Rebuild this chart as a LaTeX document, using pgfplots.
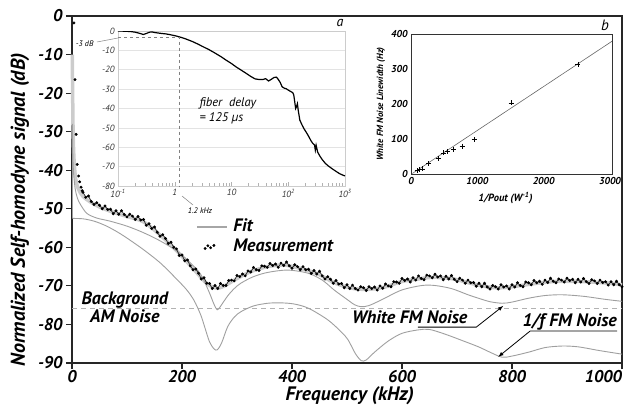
\documentclass[border=0pt]{standalone}
\usepackage{fontspec}
\setmainfont{PT Sans}
\usepackage{pgfplots}
\pgfplotsset{compat=1.18}
\newcommand{\bfi}{\bfseries\itshape}
\begin{document}
\begin{tikzpicture}
\path[use as bounding box] (-72pt,-45pt) rectangle (554pt,363pt);
% ---------------- main axis ----------------
\begin{axis}[
  scale only axis, width=550pt, height=347pt,
  xmin=0, xmax=1000, ymin=-90, ymax=0,
  clip=false,
  xtick={0,200,400,600,800,1000},
  xticklabels={0,200,400,600,800,\hbox to 0pt{\hss 1000}},
  ytick={-90,-80,...,0},
  tick align=outside, tick pos=left, major tick length=6pt,
  axis line style={line width=1.1pt, black!85},
  tick style={line width=1.1pt, black!85},
  /pgf/number format/assume math mode=true,
  tick label style={font=\fontsize{17}{17}\selectfont\bfi},
  xticklabel style={yshift=2.5pt},
  xlabel={Frequency (kHz)},
  xlabel style={font=\fontsize{19.5}{19.5}\selectfont\bfi, at={(axis description cs:0.505,-0.095)}, anchor=center},
  ylabel={Normalized Self-homodyne signal (dB)},
  ylabel style={font=\fontsize{20}{20}\selectfont\bfi, at={(axis description cs:-0.0945,0.441)}, anchor=center},
]
% background AM noise
\addplot[gray!60, dashed, line width=0.9pt, dash pattern=on 5pt off 4pt] coordinates {(0,-75.8) (1000,-75.8)};
% Fit (thick light gray)
\addplot[gray!40, line width=3.5pt, smooth] coordinates {
(0.5,-10) (2,-30) (4,-38) (7,-42.5) (12,-45) (20,-46.8) (33,-48.2) (51,-49.6) (75,-50.9) (100,-52) (130,-53.4) (161,-56.9) (191,-61) (222,-65.8) (246,-69.5) (264,-70.6) (280,-69.8) (295,-68.5) (325,-66.3) (356,-65) (386,-64.6) (416,-65.5) (447,-66.9) (477,-69.2) (508,-70.6) (538,-70.9) (569,-70.3) (599,-68.9) (630,-68.2) (654,-67.8) (690,-68.1) (727,-69.4) (763,-70.4) (790,-70.4) (836,-69.5) (873,-68.9) (910,-68.8) (946,-69) (983,-69.4) (1000,-69.7)};
% White FM noise
\addplot[gray!75, line width=0.9pt, smooth] coordinates {
(0.8,-28) (1.5,-36) (3,-41) (6,-45) (10,-47.3) (15,-48.8) (27,-51.2) (45,-52.4) (69,-53.2) (100,-54.5) (130,-56.2) (160,-58.3) (191,-61) (215,-64) (234,-67) (249,-71.5) (258,-74.7) (264,-76.2) (270,-75.3) (283,-72.6) (295,-70.7) (307,-69.3) (330,-67.6) (356,-66.5) (392,-65.9) (429,-66.7) (455,-68.5) (477,-71.1) (500,-73.5) (514,-74.9) (526,-75.4) (540,-75.1) (563,-73.6) (599,-71.1) (636,-69.9) (660,-69.9) (690,-70.7) (720,-72.3) (739,-73.2) (760,-74.1) (782,-74.5) (800,-74.2) (830,-73.2) (860,-72.5) (891,-72.3) (930,-72.7) (970,-73.5) (1000,-74)};
% 1/f FM noise
\addplot[gray!75, line width=0.9pt, smooth] coordinates {
(0.6,-52.5) (20,-52.6) (40,-53.2) (60,-54.3) (80,-55.8) (100,-57.6) (130,-60.6) (161,-64.1) (190,-68.2) (209,-71.1) (222,-73.8) (234,-77.5) (242,-81) (250,-84.5) (258,-86.3) (264,-86.6) (272,-84.8) (283,-80.6) (295,-78.1) (307,-76.7) (330,-75.2) (356,-74.5) (380,-74.4) (404,-74.7) (430,-75.8) (465,-78.8) (490,-82) (502,-84) (515,-87.5) (526,-89.4) (535,-89.2) (550,-87.2) (575,-84.3) (600,-82.3) (630,-81.4) (650,-81.3) (678,-82.5) (710,-84.2) (739,-85.8) (760,-87.2) (782,-88.5) (800,-88.2) (830,-87.2) (860,-86) (891,-85.6) (920,-85.8) (960,-86.8) (1000,-87.7)};
\addplot[gray!75, line width=0.9pt] coordinates {(0.6,-30) (0.6,-52.5)};
% Measurement
\addplot[only marks, mark=*, mark size=1.25pt, black] coordinates {
(3.5,-1.8) (5.5,-16.5) (7.5,-30.7) (9.5,-38.5) (12,-41.5) (14,-43) (16.5,-44.4) (18.5,-45.3)};
\addplot[black!85, line width=0.7pt, mark=*, mark size=1.1pt, mark options={black}] coordinates {
(20,-45.7) (25,-47.0) (30,-46.7) (35,-48.1) (40,-48.9) (45,-48.4) (50,-49.1) (55,-50.0) (60,-49.3) (65,-50.2) (70,-50.1) (75,-51.3)
(80,-50.5) (85,-51.4) (90,-50.5) (95,-51.5) (100,-52.1) (105,-51.4) (110,-51.9) (115,-52.8) (120,-52.0) (125,-52.9) (130,-52.8)
(135,-54.3) (140,-53.9) (145,-55.1) (150,-54.7) (155,-56.1) (160,-57.1) (165,-56.7) (170,-57.7) (175,-59.0) (180,-58.7) (185,-60.0) (190,-60.4)
(195,-62.1) (200,-62.0) (205,-63.5) (210,-63.3) (215,-64.8) (220,-65.8) (225,-65.6) (230,-66.7) (235,-68.2) (240,-67.9) (245,-69.3)
(250,-69.4) (255,-70.7) (260,-69.9) (265,-70.7) (270,-69.4) (275,-69.9) (280,-69.9) (285,-68.6) (290,-68.5) (295,-68.7)
(300,-67.3) (305,-67.6) (310,-66.9) (315,-67.4) (320,-66.1) (325,-66.4) (330,-65.2) (335,-65.8) (340,-66.0) (345,-64.8) (350,-64.9) (355,-65.2)
(360,-64.2) (365,-64.7) (370,-64.3) (375,-65.2) (380,-64.1) (385,-64.7) (390,-63.8) (395,-64.8) (400,-65.4) (405,-64.5) (410,-65.0) (415,-65.8)
(420,-65.0) (425,-65.8) (430,-65.7) (435,-66.8) (440,-66.0) (445,-66.9) (450,-66.2) (455,-67.4) (460,-68.2) (465,-67.6) (470,-68.3) (475,-69.3)
(480,-68.6) (485,-69.5) (490,-69.4) (495,-70.5) (500,-69.7) (505,-70.7) (510,-69.8) (515,-70.7) (520,-71.1) (525,-70.2) (530,-70.5) (535,-71.2)
(540,-70.2) (545,-70.7) (550,-70.3) (555,-71.1) (560,-70.0) (565,-70.6) (570,-69.5) (575,-70.0) (580,-70.2) (585,-68.9) (590,-69.0) (595,-69.3)
(600,-68.1) (605,-68.6) (610,-68.2) (615,-69.0) (620,-67.9) (625,-68.5) (630,-67.4) (635,-68.1) (640,-68.4) (645,-67.2) (650,-67.4)
(655,-67.9) (660,-67.0) (665,-67.7) (670,-67.4) (675,-68.4) (680,-67.5) (685,-68.2) (690,-67.3) (695,-68.3) (700,-68.9) (705,-68.0) (710,-68.5)
(715,-69.3) (720,-68.5) (725,-69.2) (730,-69.1) (735,-70.1) (740,-69.3) (745,-70.2) (750,-69.3) (755,-70.3) (760,-70.8) (765,-69.9) (770,-70.2)
(775,-70.8) (780,-69.7) (785,-70.3) (790,-70.0) (795,-70.8) (800,-69.7) (805,-70.3) (810,-69.2) (815,-69.9) (820,-70.2) (825,-69.0) (830,-69.2)
(835,-69.7) (840,-68.6) (845,-69.2) (850,-68.8) (855,-69.6) (860,-68.5) (865,-69.1) (870,-68.0) (875,-68.8) (880,-69.2) (885,-68.2) (890,-68.5)
(895,-69.0) (900,-68.0) (905,-68.6) (910,-68.3) (915,-69.2) (920,-68.3) (925,-69.0) (930,-68.1) (935,-68.9) (940,-69.4) (945,-68.4) (950,-68.7)
(955,-69.4) (960,-68.5) (965,-69.1) (970,-68.9) (975,-69.8) (980,-68.9) (985,-69.7) (990,-68.8) (995,-69.7) (1000,-70.2)};
% legend
\draw[gray!70, line width=1.2pt] (axis cs:227,-54.7) -- (axis cs:282,-54.7);
\addplot[only marks, mark=*, mark size=1.25pt, black] coordinates {(242,-60.3) (247,-59.6) (252,-60.1) (258,-59.5)};
\node[anchor=west, font=\fontsize{18}{18}\selectfont\bfi] at (axis cs:287,-54.3) {Fit};
\node[anchor=west, font=\fontsize{18}{18}\selectfont\bfi] at (axis cs:287,-59.4) {Measurement};
% annotations
\node[font=\fontsize{18}{18}\selectfont\bfi, align=center] at (axis cs:96,-75.5) {Background\\AM Noise};
\node[font=\fontsize{18}{18}\selectfont\bfi] at (axis cs:614,-78.2) {White FM Noise};
\draw[black, line width=0.8pt, -latex] (axis cs:629,-80.7) -- (axis cs:735,-80.7) -- (axis cs:784,-75.2);
\node[font=\fontsize{18}{18}\selectfont\bfi] at (axis cs:905,-79.3) {1/f FM Noise};
\draw[black, line width=0.8pt, -latex] (axis cs:991,-81.7) -- (axis cs:833,-81.7) -- (axis cs:775,-88.4);
\end{axis}
% ---------------- inset a ----------------
\begin{axis}[
  at={(46pt,177pt)}, anchor=south west,
  scale only axis, width=227pt, height=155pt,
  xmode=log, xmin=0.1, xmax=1000, ymin=-80, ymax=0,
  xtick={0.1,1,10,100,1000},
  xticklabels={10\textsuperscript{-1},1,10,10\textsuperscript{2},10\textsuperscript{3}},
  ytick={-80,-70,...,0},
  ymajorgrids, grid style={gray!22, line width=0.6pt},
  axis line style={gray!40},
  tick style={gray!60},
  y tick style={draw=none},
  tick pos=left,
  /pgf/number format/assume math mode=true,
  tick label style={font=\fontsize{9}{9}\selectfont\itshape, text=black!80},
]
\addplot[black, line width=1.2pt] coordinates {
(0.1,0) (0.13,-0.1) (0.17,-0.3) (0.2,-0.6) (0.24,-1.2) (0.28,-1.8) (0.32,-1.2) (0.36,-0.6) (0.4,-0.5) (0.45,-0.8) (0.5,-1.0) (0.6,-1.3) (0.7,-1.5) (0.8,-1.8) (1.0,-2.4) (1.2,-3.0) (1.5,-3.9) (2.0,-5.3) (2.5,-6.6) (3,-7.8) (4,-9.6) (5,-11.2) (6.5,-13.2) (8,-15) (10,-16.8) (12,-18.5) (15,-20.3) (18,-21.8) (22,-23.5) (26,-24.7) (30,-25) (36,-25) (40,-24.6) (45,-25.8) (50,-25) (56,-24) (62,-23.8) (66,-24.8) (72,-26.5) (78,-28.8) (85,-29.5) (92,-29.8) (100,-30.5) (110,-31.2) (120,-31.8) (125,-33) (130,-36.5) (135,-40) (140,-39) (145,-37.5) (150,-41) (160,-46) (175,-48.5) (190,-50.5) (210,-52.5) (230,-54.5) (250,-56.5) (270,-58) (290,-58.8) (300,-61.5) (310,-59) (330,-62.5) (360,-64.5) (400,-66.5) (450,-68.3) (500,-69.5) (600,-71.2) (700,-72.5) (800,-73.6) (900,-74.3) (1000,-74.8)};
\addplot[gray, dashed, line width=0.6pt] coordinates {(0.1,-3) (1.2,-3) (1.2,-80)};
\end{axis}
\node[font=\fontsize{8}{8}\selectfont\itshape, anchor=east] at (25pt,319pt) {-3 dB};
\draw[gray, line width=0.5pt] (25pt,321pt) -- (46pt,325pt);
\node[font=\fontsize{8}{8}\selectfont\itshape] at (128pt,152pt) {1.2 kHz};
\draw[gray, line width=0.5pt] (110pt,167pt) -- (121pt,158pt);
\node[font=\fontsize{12.5}{15}\selectfont\itshape, anchor=west, align=left] at (124pt,252pt) {fiber\ \ delay\\= 125 µs};
\node[font=\fontsize{14}{14}\selectfont\itshape] at (268pt,340pt) {a};
% ---------------- inset b ----------------
\begin{axis}[
  at={(339pt,189pt)}, anchor=south west,
  scale only axis, width=201pt, height=140pt,
  xmin=0, xmax=3030, ymin=0, ymax=400,
  xtick={0,1000,2000,3000}, ytick={0,100,...,400},
  major tick length=0pt,
  axis line style={line width=0.6pt, black!80},
  scaled x ticks=false,
  /pgf/number format/1000 sep={},
  /pgf/number format/assume math mode=true,
  tick label style={font=\fontsize{10}{10}\selectfont\bfi},
  xlabel={1/Pout (W\textsuperscript{-1})},
  xlabel style={font=\fontsize{10.5}{10.5}\selectfont\bfi, at={(axis description cs:0.47,-0.17)}, anchor=center},
  ylabel={White FM Noise Linewidth (Hz)},
  ylabel style={font=\fontsize{9}{9}\selectfont\bfi, at={(axis description cs:-0.15,0.5)}, anchor=center},
]
\addplot[gray!80!black, line width=0.6pt] coordinates {(20,1.5) (3030,379.3)};
\addplot[only marks, mark=+, mark size=2.5pt, black, line width=0.7pt] coordinates {
(91,9.6) (126,12.4) (166,14.4) (267,29.7) (418,45) (483,60.3) (544,65) (644,70) (770,79.4) (956,97.6) (1510,203) (2516,313)};
\end{axis}
\node[font=\fontsize{15}{15}\selectfont\itshape] at (533pt,338pt) {b};
\end{tikzpicture}
\end{document}
